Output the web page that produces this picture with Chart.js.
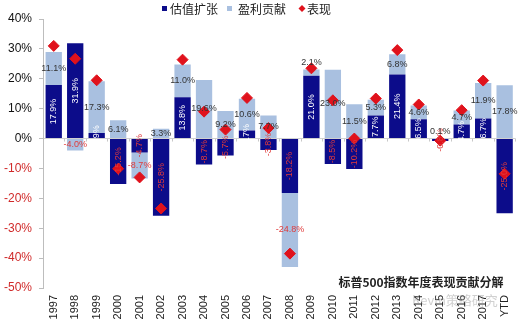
<!DOCTYPE html>
<html>
<head>
<meta charset="utf-8">
<script src="https://cdn.jsdelivr.net/npm/chart.js@4"></script>
<style>
  html, body { margin: 0; padding: 0; background: #fff; }
  #wrap { width: 525px; height: 323px; }
</style>
</head>
<body>
<div id="wrap"><canvas id="myChart" width="525" height="323"></canvas></div>
<script>
// --- data ---
const years = ['1997','1998','1999','2000','2001','2002','2003','2004','2005','2006','2007',
               '2008','2009','2010','2011','2012','2013','2014','2015','2016','2017','YTD'];
const valuation = [17.9, 31.9, 1.9, -15.2, -4.7, -25.8, 13.8, -8.7, -5.7, 2.7, -3.8,
                   -18.2, 21.0, -8.5, -10.2, 7.7, 21.4, 6.5, -0.8, 4.7, 6.7, -25.0];
const earnings = [11.1, -4.0, 17.3, 6.1, -8.7, 3.3, 11.0, 19.6, 9.2, 10.6, 7.7,
                  -24.8, 2.1, 23.0, 11.5, 5.3, 6.8, 4.6, 0.1, 4.7, 11.9, 17.8];
const performance = [31.0, 26.7, 19.5, -10.1, -13.0, -23.4, 26.4, 9.0, 3.0, 13.6, 3.5,
                     -38.5, 23.5, 12.8, 0.0, 13.4, 29.6, 11.4, -0.7, 9.5, 19.4, -11.8];
const yTicks = [40, 30, 20, 10, 0, -10, -20, -30, -40, -50];

const DARK = '#0c0c8a';
const LIGHT = '#a9c0e0';
const RED = '#e0121c';
const NEG = '#e03a3a';

// value labels on the bars
const labelPlugin = {
  id: 'barLabels',
  afterDatasetsDraw(chart) {
    const c = chart.ctx;
    c.save();
    c.font = '9px Arial, "Liberation Sans"';
    c.textBaseline = 'middle';
    c.textAlign = 'center';
    [0, 1].forEach(i => {
      const meta = chart.getDatasetMeta(i);
      const vals = chart.data.datasets[i].data;
      meta.data.forEach((bar, j) => {
        const v = vals[j];
        const txt = v.toFixed(1) + '%';
        const midY = (bar.y + bar.base) / 2;
        if (i === 0) {
          c.fillStyle = v > 0 ? '#ffffff' : NEG;
          c.save();
          c.translate(bar.x, midY);
          c.rotate(-Math.PI / 2);
          c.fillText(txt, 0, 0);
          c.restore();
        } else {
          c.fillStyle = v > 0 ? '#333333' : NEG;
          let ty = midY;
          if (v > 0 && Math.abs(bar.base - bar.y) < 8) ty = bar.y - 7;
          c.fillText(txt, bar.x, ty);
        }
      });
    });
    c.restore();
  }
};

// zero line ticks, legend, title, watermark
const decoPlugin = {
  id: 'deco',
  beforeDatasetsDraw(chart) {
    const c = chart.ctx;
    const x = chart.scales.x, y = chart.scales.y;
    const y0 = y.getPixelForValue(0);
    c.save();
    c.strokeStyle = '#c8c8c8';
    c.lineWidth = 1;
    const step = (chart.chartArea.right - chart.chartArea.left) / years.length;
    for (let k = 1; k <= years.length; k++) {
      const px = Math.round(chart.chartArea.left + k * step) + 0.5;
      c.beginPath(); c.moveTo(px, y0); c.lineTo(px, y0 + 3); c.stroke();
    }
    c.restore();
  },
  afterDraw(chart) {
    const c = chart.ctx;
    c.save();
    c.textBaseline = 'middle';
    c.textAlign = 'left';
    c.font = '12px "Noto Sans CJK SC"';
    // legend
    c.fillStyle = DARK; c.fillRect(162, 6, 5, 5);
    c.fillStyle = '#222'; c.fillText('估值扩张', 170, 9);
    c.fillStyle = LIGHT; c.fillRect(227, 6, 5, 5);
    c.fillStyle = '#222'; c.fillText('盈利贡献', 238, 9);
    c.fillStyle = RED;
    c.beginPath(); c.moveTo(302, 5); c.lineTo(305.5, 8.5); c.lineTo(302, 12); c.lineTo(298.5, 8.5); c.closePath(); c.fill();
    c.fillStyle = '#222'; c.fillText('表现', 307, 9);
    // title
    c.font = 'bold 12px "Noto Sans CJK SC"';
    c.fillStyle = '#222';
    c.textAlign = 'center';
    c.fillText('标普500指数年度表现贡献分解', 421, 282);
    // watermark
    c.font = '13px "Noto Sans CJK SC"';
    c.fillStyle = 'rgba(150,150,150,0.45)';
    c.textAlign = 'left';
    c.fillText('Kevin策略研究', 412, 300);
    c.restore();
  }
};

const ctx = document.getElementById('myChart');

const myChart = new Chart(ctx, {
  type: 'bar',
  data: {
    labels: years,
    datasets: [{
      label: '估值扩张',
      data: valuation,
      backgroundColor: DARK,
      stack: 'contrib',
      barPercentage: 0.76,
      categoryPercentage: 1,
      order: 2
    }, {
      label: '盈利贡献',
      data: earnings,
      backgroundColor: LIGHT,
      stack: 'contrib',
      barPercentage: 0.76,
      categoryPercentage: 1,
      order: 2
    }, {
      type: 'line',
      label: '表现',
      data: performance,
      stack: 'perf',
      showLine: false,
      pointStyle: 'rectRot',
      pointRadius: 5.5,
      pointBackgroundColor: RED,
      pointBorderColor: RED,
      borderColor: RED,
      backgroundColor: RED,
      order: 0
    }]
  },
  plugins: [decoPlugin, labelPlugin],
  options: {
    responsive: false,
    animation: false,
    layout: { padding: { top: 19, right: 7, left: 0, bottom: 0 } },
    plugins: {
      legend: { display: false },
      tooltip: { enabled: false }
    },
    scales: {
      x: {
        stacked: true,
        grid: { display: false, drawTicks: false },
        border: { display: false },
        ticks: {
          autoSkip: false,
          maxRotation: 90,
          minRotation: 90,
          padding: 7,
          color: '#222',
          font: { family: 'Arial, "Liberation Sans"', size: 11 }
        },
        afterFit(scale) { scale.height = 35; }
      },
      y: {
        stacked: true,
        min: -50,
        max: 40,
        afterBuildTicks(scale) { scale.ticks = yTicks.map(v => ({ value: v })); },
        grid: {
          color: c => (c.tick && c.tick.value === 0) ? '#d0d0d0' : 'rgba(0,0,0,0)',
          tickColor: '#bdbdbd',
          tickLength: 4
        },
        border: { display: true, color: '#bdbdbd' },
        ticks: {
          padding: 7,
          callback: v => v + '%',
          color: c => c.tick.value < 0 ? '#d02a2a' : '#111',
          font: { family: 'Arial, "Liberation Sans"', size: 12 }
        },
        afterFit(scale) { scale.width = 43; }
      }
    }
  }
});
</script>
</body>
</html>
